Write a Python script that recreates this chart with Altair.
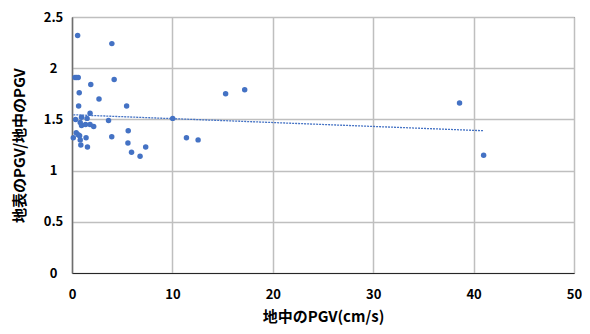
import altair as alt
import pandas as pd

pgv_under = [0.56, 3.97, 0.30, 0.46, 0.62, 4.2, 1.87, 0.72, 2.69, 0.66, 5.44, 1.8, 0.36, 0.95, 1.5,
             3.64, 10.03, 0.82, 0.95, 1.35, 1.8, 2.16, 5.6, 0.13, 0.42, 0.62, 0.76, 1.4, 3.96, 0.82,
             0.88, 1.54, 5.57, 5.93, 6.78, 7.34, 11.4, 12.56, 15.3, 17.2, 38.6, 41.0]
ratio = [2.32, 2.24, 1.91, 1.91, 1.91, 1.89, 1.84, 1.76, 1.70, 1.63, 1.63, 1.56, 1.50, 1.52, 1.51,
         1.49, 1.51, 1.47, 1.44, 1.45, 1.45, 1.43, 1.39, 1.32, 1.37, 1.35, 1.34, 1.32, 1.33, 1.30,
         1.25, 1.23, 1.27, 1.18, 1.14, 1.23, 1.32, 1.30, 1.75, 1.79, 1.66, 1.15]
x_ticks = [0, 10, 20, 30, 40, 50]
y_ticks = [0, 0.5, 1, 1.5, 2, 2.5]

df = pd.DataFrame({"x": pgv_under, "y": ratio})

FONT = "Noto Sans CJK JP"
BLUE = "#4472C4"

xs = alt.Scale(domain=[0, 50], nice=False)
ys = alt.Scale(domain=[0, 2.5], nice=False)

points = alt.Chart(df).mark_circle(size=30, color=BLUE, opacity=1).encode(
    x=alt.X("x:Q", scale=xs, title="地中のPGV(cm/s)",
            axis=alt.Axis(values=x_ticks, labelFlush=False, labelBaseline="middle",
                          labelPadding=21, titleY=43, titleBaseline="middle",
                          domainColor="#262626", domainWidth=1)),
    y=alt.Y("y:Q", scale=ys, title="地表のPGV/地中のPGV",
            axis=alt.Axis(values=y_ticks, format="~g", labelAlign="center", labelPadding=19,
                          labelFlush=False, titleX=-53, titleBaseline="middle",
                          domainColor="#6e6e6e", domainWidth=1.5)),
)

trend = alt.Chart(df).transform_regression("x", "y").mark_line(
    color=BLUE, strokeDash=[2, 1], strokeWidth=1.3
).encode(x=alt.X("x:Q", scale=xs), y=alt.Y("y:Q", scale=ys))

chart = (points + trend).properties(
    width=502, height=256,
    autosize=alt.AutoSizeParams(type="none"),
    padding={"left": 64, "top": 9, "right": 8, "bottom": 53},
).configure_view(stroke="#262626", strokeWidth=1).configure_axis(
    labelFont=FONT, titleFont=FONT, labelFontWeight="bold", titleFontWeight="bold",
    labelFontSize=13, titleFontSize=15, labelColor="#000", titleColor="#000",
    gridColor="#bfbfbf", gridWidth=1.5, ticks=False,
)

chart.save("out.html", embed_options={"renderer": "svg", "actions": False})
